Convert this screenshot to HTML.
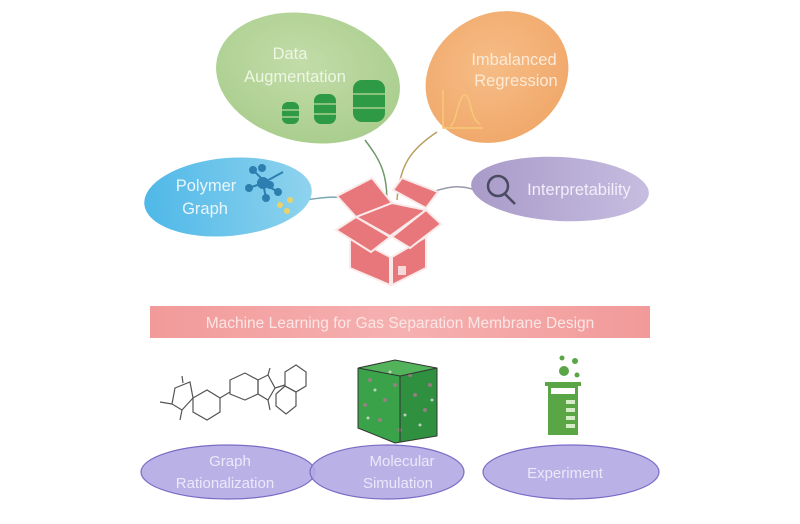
<!DOCTYPE html>
<html><head><meta charset="utf-8"><style>
html,body{margin:0;padding:0;background:#fff;width:800px;height:524px;overflow:hidden}
text{font-family:"Liberation Sans",sans-serif}
</style></head><body>
<svg width="800" height="524" viewBox="0 0 800 524" xmlns="http://www.w3.org/2000/svg">
<defs>
<radialGradient id="gG" cx="0.45" cy="0.4" r="0.7"><stop offset="0" stop-color="#c3dca9"/><stop offset="1" stop-color="#a6cc8a"/></radialGradient>
<radialGradient id="gO" cx="0.5" cy="0.4" r="0.7"><stop offset="0" stop-color="#f6bd86"/><stop offset="1" stop-color="#f0a567"/></radialGradient>
<linearGradient id="gB" x1="0" y1="0" x2="1" y2="0"><stop offset="0" stop-color="#4fb8e8"/><stop offset="1" stop-color="#8fd3ee"/></linearGradient>
<linearGradient id="gP" x1="0" y1="0" x2="1" y2="0"><stop offset="0" stop-color="#a99bc9"/><stop offset="1" stop-color="#c6bde0"/></linearGradient>
<linearGradient id="gR" x1="0" y1="0" x2="1" y2="0"><stop offset="0" stop-color="#f29a9a"/><stop offset="0.5" stop-color="#f6b0b0"/><stop offset="1" stop-color="#f29a9a"/></linearGradient>
</defs>
<g fill="none" stroke-width="1.5">
<path d="M365 140 C380 160 390 175 386 215" stroke="#6f9a6a"/>
<path d="M437 132 C410 150 400 165 397 200" stroke="#b8a060"/>
<path d="M305 200 C320 198 330 196 345 198" stroke="#7aa6b4"/>
<path d="M475 190 C460 185 450 186 432 192" stroke="#9a98a8"/>
</g>
<ellipse cx="308" cy="78" rx="93" ry="64" transform="rotate(12 308 78)" fill="url(#gG)"/>
<ellipse cx="497" cy="77" rx="74" ry="63" transform="rotate(-30 497 77)" fill="url(#gO)"/>
<ellipse cx="228" cy="197" rx="84" ry="39" transform="rotate(-5 228 197)" fill="url(#gB)"/>
<ellipse cx="560" cy="189" rx="89" ry="32" transform="rotate(3 560 189)" fill="url(#gP)"/>
<g fill="#eef6e4" font-size="16.5" text-anchor="middle">
<text x="290" y="59">Data</text>
<text x="295" y="82">Augmentation</text>
</g>
<g fill="#fbead8" font-size="16.5" text-anchor="middle">
<text x="514" y="65">Imbalanced</text>
<text x="516" y="86">Regression</text>
</g>
<g fill="#eaf6fc" font-size="16.5" text-anchor="middle">
<text x="206" y="191">Polymer</text>
<text x="205" y="214">Graph</text>
</g>
<text x="579" y="195" fill="#f2eefa" font-size="16.5" text-anchor="middle">Interpretability</text>
<g fill="#2e9a45">
<rect x="282" y="102" width="17" height="22" rx="6"/>
<rect x="314" y="94" width="22" height="30" rx="7"/>
<rect x="353" y="80" width="32" height="42" rx="9"/>
</g>
<g stroke="#a9cf8f" stroke-width="1.5">
<line x1="282" y1="110" x2="299" y2="110"/><line x1="282" y1="117" x2="299" y2="117"/>
<line x1="314" y1="104" x2="336" y2="104"/><line x1="314" y1="114" x2="336" y2="114"/>
<line x1="353" y1="94" x2="385" y2="94"/><line x1="353" y1="108" x2="385" y2="108"/>
</g>
<g stroke="#f7c978" stroke-width="1.5" fill="none"><path d="M443 90 V128 H483"/><path d="M450 126 C456 126 458 95 465 95 C471 95 470 120 480 124"/></g>
<g stroke="#2d7fb0" stroke-width="2" fill="#2d7fb0">
<line x1="253" y1="170" x2="268" y2="185"/><line x1="283" y1="172" x2="263" y2="183"/><line x1="249" y1="188" x2="263" y2="183"/><line x1="263" y1="183" x2="266" y2="198"/><line x1="263" y1="183" x2="278" y2="192"/>
<circle cx="253" cy="170" r="3"/><circle cx="262" cy="168" r="3"/><circle cx="270" cy="185" r="3"/><circle cx="249" cy="188" r="3"/><circle cx="266" cy="198" r="3"/><circle cx="278" cy="192" r="3"/><circle cx="263" cy="183" r="5"/>
</g>
<g fill="#e8d36a"><circle cx="280" cy="205" r="3"/><circle cx="290" cy="200" r="3"/><circle cx="287" cy="211" r="3"/></g>
<g stroke="#4a4a60" stroke-width="2.5" fill="none"><circle cx="498" cy="186" r="10"/><line x1="505" y1="194" x2="515" y2="204"/></g>
<g fill="#e8777b" stroke="#fbeaea" stroke-width="2">
<polygon points="337,196 372,178 392,203 356,217"/>
<polygon points="393,190 402,178 438,192 426,208"/>
<polygon points="356,217 392,203 426,210 390,236"/>
<polygon points="350,236 390,257 390,285 350,268"/>
<polygon points="392,257 426,237 426,268 392,285"/>
<polygon points="336,230 356,217 390,237 371,252"/>
<polygon points="392,237 426,210 441,224 410,248"/>
</g>
<rect x="398" y="266" width="8" height="9" fill="#f7d9d9"/>
<rect x="150" y="306" width="500" height="32" fill="url(#gR)"/>
<text x="400" y="328" text-anchor="middle" fill="#fbe6e6" font-size="15.5">Machine Learning for Gas Separation Membrane Design</text>
<g stroke="#555" stroke-width="1.2" fill="none">
<polygon points="175,388 190,382 193,398 182,410 172,404"/>
<polygon points="193,398 207,390 220,398 220,412 207,420 193,412"/>
<line x1="220" y1="398" x2="230" y2="392"/>
<polygon points="230,380 245,373 258,380 258,394 245,400 230,394"/>
<polygon points="258,380 268,375 275,388 268,400 258,394"/>
<line x1="275" y1="388" x2="285" y2="385"/>
<polygon points="285,372 296,365 306,372 306,386 296,392 285,386"/>
<polygon points="285,386 296,392 296,406 286,414 276,406 276,394"/>
<line x1="172" y1="404" x2="160" y2="402"/><line x1="183" y1="383" x2="182" y2="376"/><line x1="182" y1="410" x2="180" y2="420"/>
<line x1="268" y1="375" x2="270" y2="368"/><line x1="268" y1="400" x2="270" y2="410"/>
</g>
<g>
<polygon points="358,368 395,360 437,368 437,436 395,443 358,428" fill="#3aa34a"/>
<polygon points="358,368 395,360 437,368 400,376" fill="#52b35a"/>
<polygon points="400,376 437,368 437,436 400,442" fill="#2f9040"/>
<g fill="#b07890" opacity="0.8">
<circle cx="370" cy="380" r="2"/><circle cx="385" cy="400" r="2"/><circle cx="410" cy="375" r="2"/><circle cx="425" cy="410" r="2"/><circle cx="380" cy="420" r="2"/><circle cx="400" cy="430" r="2"/><circle cx="430" cy="385" r="2"/><circle cx="365" cy="405" r="2"/><circle cx="415" cy="395" r="2"/><circle cx="395" cy="385" r="2"/>
</g>
<g fill="#ddd" opacity="0.8">
<circle cx="375" cy="390" r="1.5"/><circle cx="405" cy="415" r="1.5"/><circle cx="420" cy="425" r="1.5"/><circle cx="390" cy="372" r="1.5"/><circle cx="432" cy="400" r="1.5"/><circle cx="368" cy="418" r="1.5"/>
</g>
<g fill="none" stroke="#333" stroke-width="1">
<polyline points="358,368 395,360 437,368 437,436 395,443 358,428 358,368"/>
<polyline points="358,368 400,376 437,368"/><line x1="400" y1="376" x2="400" y2="442"/>
</g>
</g>
<g fill="#5aa545">
<circle cx="562" cy="358" r="2.5"/><circle cx="575" cy="361" r="3"/><circle cx="564" cy="371" r="5"/><circle cx="577" cy="375" r="2.5"/>
<rect x="545" y="382" width="36" height="4"/>
<path d="M548 386 H578 V435 H548 Z M551 388 V394 H575 V388 Z" fill-rule="evenodd"/>
</g>
<g fill="#d6ecc9"><rect x="566" y="400" width="9" height="4"/><rect x="566" y="408" width="9" height="4"/><rect x="566" y="416" width="9" height="4"/><rect x="566" y="424" width="9" height="4"/></g>
<g fill="#b3aae3" stroke="#7a6cc6" stroke-width="1.2" fill-opacity="0.9">
<ellipse cx="228" cy="472" rx="87" ry="27"/>
<ellipse cx="387" cy="472" rx="77" ry="27"/>
<ellipse cx="571" cy="472" rx="88" ry="27"/>
</g>
<g fill="#ece8fa" font-size="15" text-anchor="middle">
<text x="230" y="466">Graph</text><text x="225" y="488">Rationalization</text>
<text x="402" y="466">Molecular</text><text x="398" y="488">Simulation</text>
<text x="565" y="478">Experiment</text>
</g>
</svg>
</body></html>
